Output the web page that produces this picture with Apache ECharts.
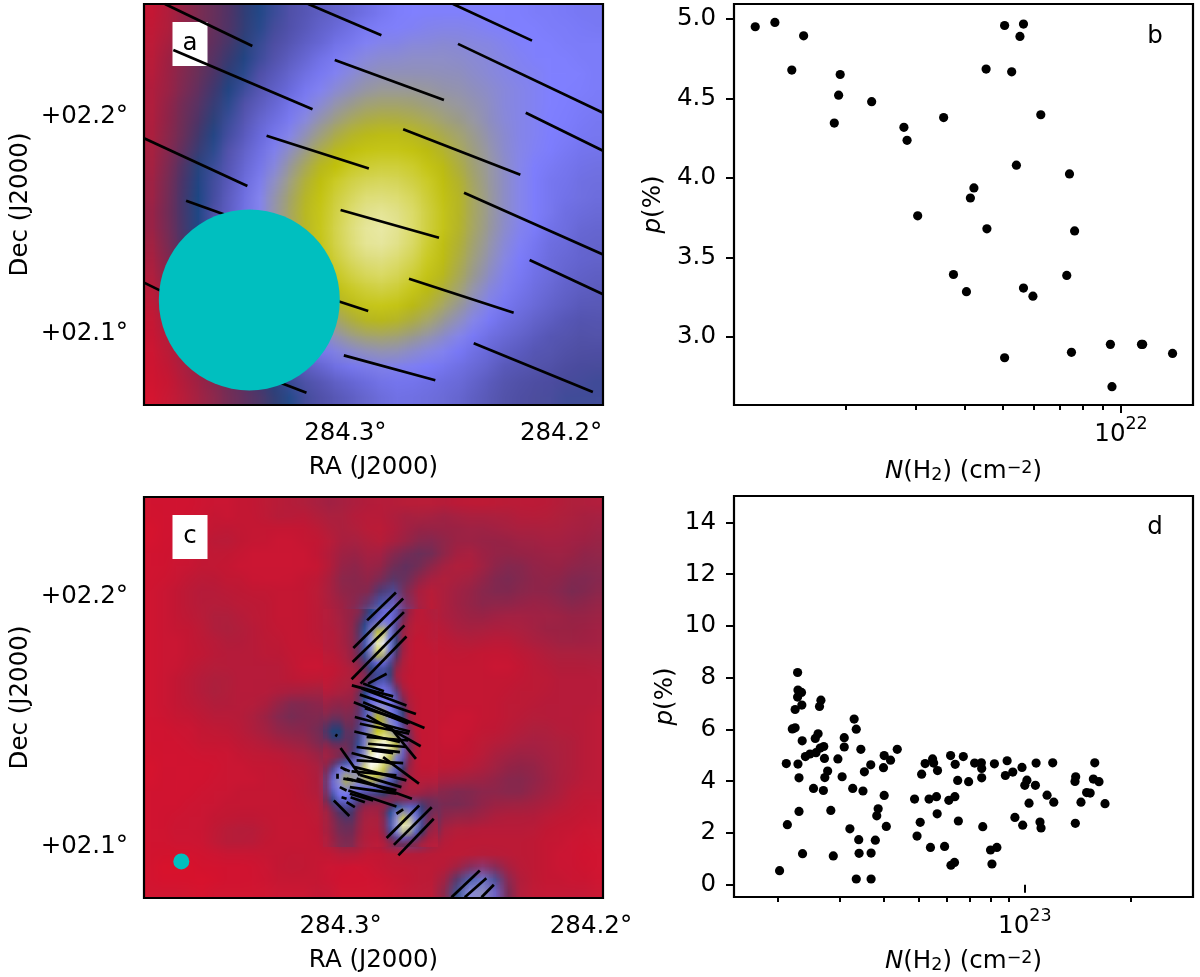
<!DOCTYPE html>
<html>
<head>
<meta charset="utf-8">
<style>
  html, body { margin: 0; background: #fff; }
  #main { position: absolute; left: 0; top: 0; width: 1200px; height: 977px; z-index: 2; }
  .heat { position: absolute; transform-origin: 0 0; z-index: 1; }
</style>
<script src="https://cdn.jsdelivr.net/npm/echarts@6/dist/echarts.min.js"></script>
</head>
<body>
<div id="heatA" class="heat" style="left:144px;top:4px;width:30px;height:26px;transform:scale(15.31,15.42)"></div>
<div id="heatC" class="heat" style="left:144px;top:497px;width:36px;height:32px;transform:scale(12.76,12.53)"></div>
<div id="heatCore" class="heat" style="left:322.7px;top:609.3px;width:18px;height:38px;transform:scale(6.38,6.27)"></div>
<div id="main"></div>
<script>
// map colour scale, stops every 5 units over 0..100
const mapColors = ['#d8152f', '#b71e3c', '#95274a', '#742f57', '#5f3362', '#463a70', '#104a80', '#4d4d9f', '#5e5ec0', '#6f6fdf', '#8080ff',
  '#9090c0', '#a0a080', '#b0b040', '#c0c000', '#cbcb2b', '#d5d555', '#dfdf80', '#eaeaaa', '#f4f4d4', '#ffffff'];

// panel a: map values, rows top to bottom
const heatA = [
  [2,5,9,13,17,21,26,31,33,36,38,40,41,43,45,47,49,50,50,50,50,50,50,50,50,49,49,49,48,48],
  [3,5,9,13,17,21,26,31,34,36,38,41,43,45,47,49,50,50,51,51,51,51,50,50,50,50,49,49,49,48],
  [3,6,10,14,18,22,27,33,35,37,40,42,45,47,50,51,51,52,52,53,53,52,52,51,50,50,50,49,49,49],
  [4,7,11,15,20,24,29,33,36,39,42,45,48,51,52,53,53,54,54,54,54,53,53,52,51,50,50,50,49,49],
  [4,8,12,16,21,26,31,35,38,41,44,47,50,52,54,55,55,55,55,55,55,54,53,52,51,51,50,50,50,49],
  [5,8,12,17,23,29,33,37,40,43,47,50,52,54,56,57,57,57,57,56,56,55,54,53,52,51,50,50,50,49],
  [5,9,14,19,25,31,35,39,42,45,49,52,55,57,59,60,60,60,59,58,57,56,55,53,52,51,50,50,49,49],
  [5,10,15,21,27,33,37,41,44,48,51,55,58,61,63,64,64,63,62,60,59,57,55,53,52,51,50,50,49,48],
  [5,10,15,22,29,34,38,43,46,50,54,58,62,65,67,68,68,67,65,63,61,59,56,54,52,51,50,49,49,48],
  [6,11,17,24,31,36,40,44,49,53,57,62,66,69,71,72,72,71,69,66,63,60,57,54,52,51,50,49,48,47],
  [6,12,19,28,33,37,42,46,51,56,61,66,70,73,75,76,76,75,72,69,65,61,58,55,52,50,49,48,47,46],
  [7,13,21,29,34,38,43,48,53,58,64,69,73,77,79,80,80,78,75,71,67,62,58,55,52,50,48,47,46,45],
  [7,13,22,30,34,39,44,50,55,60,66,71,76,80,83,84,83,81,77,72,68,63,59,55,52,50,48,47,46,45],
  [8,14,22,30,35,40,45,50,56,61,67,72,77,82,86,87,86,83,79,73,68,63,59,55,52,50,48,46,45,44],
  [8,14,22,30,35,40,45,50,55,61,67,72,78,84,88,90,88,84,79,73,68,63,59,55,52,50,47,46,44,43],
  [7,13,21,30,35,39,44,49,54,60,66,72,78,84,88,90,88,84,78,72,67,62,58,54,51,49,46,45,43,42],
  [6,12,20,28,34,38,43,48,53,58,65,71,77,82,86,87,85,82,76,71,66,61,57,53,50,48,45,44,43,42],
  [5,11,18,26,33,37,41,46,51,57,63,69,74,79,82,84,82,79,74,69,65,60,56,52,49,47,45,43,42,41],
  [4,9,15,23,31,35,39,44,49,54,60,66,71,75,78,80,79,75,71,67,63,58,54,51,48,46,44,42,41,40],
  [3,8,13,20,27,33,37,42,46,51,57,62,67,71,74,75,74,71,68,64,60,56,52,49,47,45,43,41,40,39],
  [2,6,11,17,24,30,35,39,43,48,53,58,62,66,69,70,69,67,64,60,57,53,50,47,45,43,41,40,38,38],
  [2,5,9,14,20,26,32,36,40,45,49,53,57,61,63,64,63,61,59,56,53,50,47,45,43,41,39,38,37,37],
  [1,4,8,12,17,23,28,33,37,41,45,49,52,55,57,58,58,56,54,52,50,47,45,42,41,39,38,37,36,36],
  [1,3,6,10,14,19,24,29,34,38,41,44,47,49,51,52,52,51,50,49,47,45,43,40,39,38,37,36,35,35],
  [1,2,5,8,12,16,20,25,29,34,37,39,42,44,46,47,48,48,47,46,45,43,41,38,37,36,36,35,35,34],
  [0,2,4,7,10,14,18,22,26,31,34,36,38,40,42,44,46,46,45,44,43,41,39,37,36,35,35,34,34,34]
];

// panel c: map values, rows top to bottom
const heatC = [
  [1,1,1,1,1,2,2,3,3,4,4,5,6,7,9,8,7,6,5,5,4,4,4,4,3,3,3,3,4,4,4,4,5,6,6,5],
  [1,1,1,1,2,3,2,3,3,4,6,6,5,6,7,7,5,5,5,6,7,6,6,8,7,6,6,6,6,5,5,5,6,6,7,7],
  [0,1,1,1,2,3,3,3,3,3,3,3,3,4,6,7,6,4,4,5,8,9,9,9,9,8,8,7,7,6,6,6,6,7,7,8],
  [0,1,1,2,3,4,5,4,3,3,2,2,3,3,4,6,7,6,4,5,7,10,11,10,9,9,10,10,9,8,8,7,7,8,8,9],
  [1,1,1,2,3,4,4,3,2,2,2,2,2,3,5,8,9,7,6,10,12,16,18,13,9,7,9,10,10,9,9,8,8,8,10,10],
  [1,1,2,2,3,3,3,2,2,2,2,2,2,2,4,9,11,8,8,14,20,18,13,9,6,5,7,10,12,12,10,10,9,10,11,11],
  [1,1,2,3,4,4,3,3,2,2,2,2,3,3,5,11,13,10,10,17,20,13,9,6,6,7,9,12,14,13,11,10,10,12,13,12],
  [1,2,3,4,5,5,4,4,3,3,3,3,3,4,6,11,12,10,18,33,16,8,5,6,8,9,11,13,14,12,11,11,12,14,14,12],
  [1,2,3,4,5,5,5,4,4,4,3,3,3,4,6,9,11,12,32,42,14,6,4,6,8,10,12,12,12,11,10,10,11,13,12,10],
  [1,2,3,4,5,6,6,5,4,4,3,3,3,4,5,7,11,33,44,48,36,10,4,6,8,9,10,9,8,8,8,8,8,10,10,9],
  [1,2,3,3,4,6,7,6,5,4,3,3,3,4,5,7,14,42,72,50,38,9,4,5,7,8,8,7,7,7,8,9,9,9,9,8],
  [1,2,2,3,4,5,6,6,5,4,4,3,3,4,5,7,15,48,100,52,36,8,3,4,5,6,6,5,5,6,7,8,9,9,9,8],
  [1,2,2,3,3,4,5,5,5,4,4,3,3,3,3,5,14,46,90,50,33,7,3,3,4,4,3,3,3,4,5,6,7,7,7,7],
  [1,2,2,3,4,5,5,5,5,5,5,4,2,2,2,5,11,32,42,36,22,6,3,3,3,3,3,2,2,3,4,5,6,6,6,6],
  [1,2,3,4,5,6,6,5,5,5,5,4,3,3,3,5,9,20,38,30,10,5,4,3,3,3,3,3,3,3,4,4,5,5,5,5],
  [1,2,3,4,5,7,6,5,5,5,5,5,5,6,6,7,10,30,42,36,8,5,4,3,3,3,3,3,3,4,4,4,5,5,5,5],
  [1,2,3,4,5,6,6,5,5,5,8,12,12,11,10,9,15,36,46,42,15,5,4,3,3,3,3,3,4,4,4,5,5,5,5,5],
  [1,2,3,3,4,5,5,5,6,8,12,16,14,12,13,12,18,40,72,52,32,6,3,3,2,2,3,3,4,4,5,5,5,5,5,4],
  [1,1,2,2,3,4,4,5,6,8,11,13,12,14,18,26,24,50,76,56,40,8,3,2,2,2,3,3,4,5,6,6,5,5,5,4],
  [1,1,1,2,3,3,3,4,5,6,8,10,10,14,18,26,28,55,92,92,50,12,3,2,2,3,4,4,5,6,7,7,6,6,5,4],
  [1,1,1,1,2,2,2,3,4,4,5,6,7,9,13,15,32,70,100,96,50,14,4,3,3,3,4,6,7,8,8,7,7,6,5,4],
  [0,1,1,1,1,1,2,2,3,3,3,4,5,6,10,22,50,78,100,78,38,11,4,3,3,4,5,7,9,10,10,8,7,6,5,4],
  [0,1,1,1,1,1,2,2,2,3,3,4,4,5,10,52,66,84,84,52,24,9,5,5,5,6,7,9,11,12,11,9,7,6,5,4],
  [1,1,1,1,1,2,2,3,3,3,3,3,4,5,10,46,58,48,44,34,14,9,9,10,12,12,11,11,13,13,11,9,7,5,4,4],
  [1,1,1,1,2,2,3,3,3,3,3,3,4,4,8,34,46,30,16,20,24,17,14,14,16,14,11,10,10,10,9,7,6,4,4,3],
  [1,1,1,2,2,3,3,3,3,3,3,3,3,4,6,20,24,12,8,40,76,54,24,12,12,12,10,7,6,6,6,5,4,4,3,3],
  [1,1,2,2,2,3,4,5,5,4,3,3,3,3,6,17,17,8,6,40,100,58,28,8,6,6,5,5,5,5,5,4,3,3,2,2],
  [1,1,2,2,2,4,6,6,6,4,3,3,3,3,5,14,15,7,5,22,38,34,14,6,4,4,4,4,4,4,4,3,3,2,2,2],
  [1,1,1,1,1,2,3,3,3,3,3,3,3,3,3,6,7,4,3,4,6,6,5,4,4,4,4,4,4,4,4,3,2,2,1,1],
  [1,0,0,0,1,1,1,1,1,2,3,4,4,3,2,2,1,2,3,4,4,4,4,4,4,6,8,7,5,4,4,3,2,2,1,1],
  [1,0,0,0,0,0,1,1,1,2,3,3,3,3,2,1,1,1,2,3,3,4,4,5,14,32,46,32,11,5,4,3,3,2,2,1],
  [1,1,1,1,0,1,1,1,1,1,2,2,2,3,3,1,1,1,1,2,3,4,4,6,28,52,56,46,18,6,4,3,3,3,3,2]
];

// panel c: the filament and its two cores read at twice the resolution
const heatCore = [
  [5,6,8,9,10,11,16,30,36,42,46,42,24,10,5,4,5,6],
  [5,6,7,9,10,12,22,33,38,44,46,40,20,8,5,4,5,6],
  [5,6,7,8,10,14,28,38,44,50,48,36,14,7,4,4,4,5],
  [5,5,7,8,10,16,31,44,62,72,52,34,11,6,4,4,4,5],
  [5,5,6,8,10,16,32,48,76,84,50,32,10,6,4,3,4,5],
  [5,5,6,8,10,16,33,50,90,100,52,30,10,5,3,3,4,4],
  [5,5,6,7,9,15,33,50,86,95,50,28,9,5,3,3,3,4],
  [4,4,5,7,9,14,31,46,72,74,46,26,8,5,3,3,3,3],
  [4,4,5,6,8,12,24,36,48,50,38,20,7,4,3,3,3,3],
  [3,3,4,5,6,9,15,30,36,38,32,12,6,4,3,3,3,3],
  [3,3,4,5,6,8,11,24,33,36,31,9,5,4,3,3,3,3],
  [3,4,5,6,6,8,10,24,34,38,32,9,5,3,3,3,3,3],
  [4,5,6,6,7,8,16,32,40,44,40,18,6,4,3,3,3,3],
  [5,5,6,7,8,10,30,40,44,46,46,34,9,5,3,3,3,3],
  [7,8,9,9,9,12,31,44,46,48,48,38,14,5,4,3,3,3],
  [9,10,11,10,10,14,33,45,50,52,50,40,24,6,4,3,3,3],
  [10,12,13,12,12,17,34,46,62,60,50,44,30,7,4,3,3,3],
  [12,16,16,13,13,18,36,48,70,66,52,46,32,9,4,3,3,3],
  [16,22,24,15,14,20,38,50,66,62,54,48,34,11,4,3,3,3],
  [20,28,30,20,16,24,42,54,72,74,60,50,38,14,5,3,3,3],
  [18,28,30,22,18,26,44,58,76,88,80,62,42,18,6,3,3,3],
  [12,20,22,18,18,28,46,62,90,98,92,70,46,20,7,3,3,3],
  [9,12,14,14,18,32,48,74,100,100,96,72,46,18,7,3,3,3],
  [8,9,11,13,22,36,52,90,100,100,76,56,44,16,6,3,3,3],
  [8,12,20,28,36,44,58,100,100,90,68,52,38,12,5,3,3,3],
  [9,24,42,48,50,52,78,100,98,80,60,46,30,10,5,3,3,3],
  [12,36,50,58,56,54,80,92,80,70,52,40,22,9,5,4,4,4],
  [14,42,52,64,62,54,62,70,66,54,44,32,16,8,5,5,5,5],
  [14,42,50,60,58,50,48,48,46,42,36,24,11,7,6,6,7,7],
  [12,38,48,50,46,40,38,36,34,30,24,14,9,7,7,8,9,10],
  [10,30,44,46,42,34,24,20,18,16,14,10,10,11,12,13,14,14],
  [8,20,34,38,36,22,12,10,10,9,12,30,34,36,38,26,20,17],
  [6,13,22,26,26,14,8,8,8,10,30,44,56,50,44,32,20,14],
  [6,11,18,22,24,13,8,7,6,9,32,50,72,64,50,34,18,12],
  [6,10,16,18,20,12,7,6,6,9,34,52,90,100,56,36,16,9],
  [6,10,15,16,18,11,7,6,5,8,32,50,88,76,50,30,12,8],
  [5,9,13,14,15,10,6,5,5,6,20,34,46,42,34,18,9,7],
  [5,8,12,13,14,9,6,5,4,5,9,14,18,16,13,8,6,5]
];

// polarisation vectors: [RA start, Dec start, RA end, Dec end] in degrees
const vectorsA = [
  [284.3836,2.2520,284.3431,2.2326],[284.3172,2.2520,284.2833,2.2376],[284.2501,2.2520,284.2135,2.2351],
  [284.2478,2.2336,284.1806,2.2018],[284.3049,2.2262,284.2543,2.2077],[284.3797,2.2308,284.3152,2.2034],
  [284.3933,2.1900,284.3454,2.1680],[284.3365,2.1912,284.2891,2.1761],[284.2732,2.1942,284.2189,2.1732],
  [284.2164,2.2018,284.1806,2.1843],[284.3738,2.1612,284.3272,2.1446],[284.3022,2.1569,284.2566,2.1441],
  [284.2450,2.1649,284.1806,2.1364],[284.2146,2.1338,284.1806,2.1180],[284.2705,2.1252,284.2220,2.1095],
  [284.3933,2.1234,284.3689,2.1115],[284.3380,2.1261,284.2894,2.1103],[284.2405,2.0954,284.1853,2.0729],
  [284.3007,2.0898,284.2583,2.0783],[284.3535,2.0861,284.3180,2.0726]
];
const vectorsC = [
  [284.2894,2.1904,284.2779,2.2015],[284.2949,2.1794,284.2750,2.1991],[284.2952,2.1738,284.2747,2.1937],
  [284.2956,2.1669,284.2745,2.1884],[284.2920,2.1652,284.2737,2.1840],[284.2890,2.1652,284.2816,2.1691],
  [284.2910,2.1652,284.2827,2.1621],[284.2955,2.1645,284.2790,2.1601],[284.2916,2.1632,284.2737,2.1565],
  [284.2923,2.1608,284.2699,2.1531],[284.2910,2.1578,284.2665,2.1475],[284.2947,2.1578,284.2730,2.1492],
  [284.2903,2.1554,284.2723,2.1496],[284.2943,2.1519,284.2723,2.1461],[284.2896,2.1525,284.2680,2.1402],
  [284.2923,2.1492,284.2726,2.1452],[284.2945,2.1461,284.2763,2.1419],[284.2803,2.1479,284.2699,2.1352],
  [284.2896,2.1439,284.2730,2.1425],[284.2890,2.1412,284.2737,2.1399],[284.2936,2.1399,284.2763,2.1379],
  [284.2876,2.1386,284.2790,2.1375],[284.2956,2.1375,284.2790,2.1332],[284.2936,2.1346,284.2750,2.1335],
  [284.2830,2.1359,284.2687,2.1253],[284.2943,2.1319,284.2737,2.1266],[284.2956,2.1302,284.2777,2.1286],
  [284.2923,2.1288,284.2757,2.1239],[284.3000,2.1395,284.2923,2.1286],[284.2976,2.1273,284.2777,2.1226],
  [284.2989,2.1312,284.2963,2.1302],[284.2936,2.1273,284.2715,2.1193],[284.2963,2.1239,284.2777,2.1213],
  [284.2969,2.1226,284.2777,2.1162],[284.2963,2.1213,284.2870,2.1186],[284.2960,2.1199,284.2903,2.1179],
  [284.3027,2.1186,284.2965,2.1124],[284.3003,2.1239,284.2976,2.1226],[284.2996,2.1199,284.2976,2.1193],
  [284.2976,2.1179,284.2943,2.1159],[284.3013,2.1292,284.3013,2.1273],[284.3000,2.1319,284.2976,2.1306],
  [284.2989,2.1273,284.2949,2.1266],[284.3021,2.1448,284.3013,2.1443],
  [284.2816,2.1036,284.2686,2.1166],[284.2787,2.1009,284.2636,2.1159],[284.2769,2.0967,284.2628,2.1113],
  [284.2777,2.1133,284.2750,2.1150],
  [284.2557,2.0800,284.2444,2.0907],[284.2504,2.0800,284.2418,2.0876],[284.2437,2.0800,284.2388,2.0850]
];

// beam positions [RA, Dec]
const beamA = [284.3445, 2.1154];
const beamC = [284.3636, 2.0943];

// sky axis ticks
const raTicks = [284.3, 284.2];
const decTicks = [2.2, 2.1];

// panel b: log10 N(H2) and p(%)
const bLogN = [21.070,21.120,21.193,21.163,21.286,21.282,21.271,21.366,21.448,21.456,21.549,21.657,21.704,21.752,21.743,21.722,21.796,21.734,21.869,21.626,21.617,21.483,21.659,21.882,21.574,21.862,21.607,21.752,21.776,21.704,21.874,21.973,22.052,22.055,22.131,21.977];
const bP = [4.95,4.977,4.893,4.678,4.65,4.52,4.345,4.479,4.318,4.236,4.379,4.684,4.958,4.967,4.889,4.667,4.397,4.08,4.025,3.937,3.874,3.762,3.68,3.667,3.393,3.387,3.285,3.308,3.257,2.87,2.904,2.954,2.954,2.954,2.897,2.688];
const bTicksY = [3, 3.5, 4, 4.5, 5];
const bMajorX = [1e22];
const bMinorX = [2e21, 3e21, 4e21, 5e21, 6e21, 7e21, 8e21, 9e21];

// panel d: log10 N(H2) and p(%)
const dLogN = [22.306,22.328,22.325,22.357,22.358,22.368,22.357,22.369,22.350,22.342,22.350,22.370,22.358,22.361,22.361,22.371,22.379,22.392,22.409,22.407,22.415,22.423,22.419,22.421,22.431,22.433,22.402,22.430,22.434,22.442,22.451,22.458,22.471,22.483,22.489,22.489,22.505,22.513,22.517,22.523,22.523,22.530,22.531,22.536,22.542,22.546,22.564,22.565,22.565,22.577,22.581,22.585,22.600,22.602,22.602,22.608,22.620,22.639,22.688,22.695,22.704,22.708,22.718,22.729,22.733,22.739,22.742,22.750,22.753,22.752,22.773,22.785,22.790,22.791,22.801,22.802,22.803,22.810,22.812,22.826,22.841,22.858,22.877,22.878,22.878,22.881,22.903,22.907,22.921,22.914,22.945,22.950,22.966,22.972,22.992,22.994,23.000,23.006,23.012,23.030,23.032,23.043,23.046,23.063,23.079,23.082,23.142,23.144,23.143,23.159,23.175,23.185,23.194,23.198,23.210,23.227];
const dP = [0.54,2.32,4.68,8.2,7.52,7.43,7.25,6.94,6.77,6.02,6.06,5.56,4.66,4.13,2.83,1.2,4.95,5.05,5.1,5.65,5.83,7.13,6.89,5.28,5.34,4.88,3.72,3.64,4.14,4.39,2.87,1.11,4.86,4.17,5.68,5.32,2.16,3.72,6.4,6.01,0.22,1.74,1.21,5.23,3.62,4.36,4.63,1.22,0.22,1.72,2.66,2.93,4.52,4.99,3.45,2.25,4.81,5.23,3.31,1.88,2.41,4.27,4.68,3.31,1.44,4.86,4.7,3.4,4.41,2.74,1.48,3.26,4.99,0.75,0.86,3.4,4.65,4.03,2.46,4.95,3.98,4.7,4.71,4.49,4.13,2.24,1.34,0.8,1.44,4.67,4.22,4.79,4.35,2.6,4.53,2.3,3.84,4.04,3.15,3.84,4.7,2.42,2.19,3.46,4.71,3.19,3.99,4.17,2.37,3.19,3.56,3.54,4.08,4.71,3.98,3.13];
const dTicksY = [0, 2, 4, 6, 8, 10, 12, 14];
const dMajorX = [1e23];
const dMinorX = [2e22, 3e22, 4e22, 5e22, 6e22, 7e22, 8e22, 9e22, 2e23, 3e23];

const FONT = 'DejaVu Sans';
const FS = 24.5;

function drawHeat(id, rows) {
  const nx = rows[0].length, ny = rows.length;
  const chart = echarts.init(document.getElementById(id), null, { width: nx, height: ny, devicePixelRatio: 1 });
  const cells = [];
  rows.forEach((row, j) => row.forEach((v, i) => cells.push([i, j, v])));
  chart.setOption({
    animation: false,
    grid: { left: 0, right: 0, top: 0, bottom: 0, outerBoundsMode: 'none' },
    xAxis: { type: 'category', show: false, data: rows[0].map((_, i) => i) },
    yAxis: { type: 'category', show: false, inverse: true, data: rows.map((_, j) => j) },
    visualMap: { show: false, min: 0, max: 100, inRange: { color: mapColors } },
    series: [{ type: 'heatmap', data: cells, itemStyle: { borderWidth: 0 } }]
  });
}
drawHeat('heatA', heatA);
drawHeat('heatC', heatC);
drawHeat('heatCore', heatCore);

function skyX(grid, min, max) {
  return {
    type: 'value', gridIndex: grid, min: min, max: max, inverse: true,
    splitLine: { show: false }, axisLine: { show: false }, axisTick: { show: false },
    axisLabel: { customValues: raTicks, margin: 16.5, color: '#000', fontFamily: FONT, fontSize: FS, formatter: v => v.toFixed(1) + '°' },
    name: 'RA (J2000)', nameLocation: 'middle', nameGap: 50,
    nameTextStyle: { color: '#000', fontFamily: FONT, fontSize: FS }
  };
}
function skyY(grid, min, max) {
  return {
    type: 'value', gridIndex: grid, min: min, max: max,
    splitLine: { show: false }, axisLine: { show: false }, axisTick: { show: false },
    axisLabel: { customValues: decTicks, margin: 16, color: '#000', fontFamily: FONT, fontSize: FS, formatter: v => '+0' + v.toFixed(1) + '°' },
    name: 'Dec (J2000)', nameLocation: 'middle', nameGap: 111, nameRotate: 90,
    nameTextStyle: { color: '#000', fontFamily: FONT, fontSize: FS }
  };
}
const nameRich = {
  i: { fontFamily: FONT, fontSize: FS, fontStyle: 'italic', color: '#000' },
  n: { fontFamily: FONT, fontSize: FS, color: '#000' },
  s: { fontFamily: FONT, fontSize: 17.5, color: '#000', verticalAlign: 'bottom' },
  u: { fontFamily: FONT, fontSize: 17.5, color: '#000', verticalAlign: 'top' }
};
function logX(grid, min, max, major, gap) {
  return {
    type: 'log', gridIndex: grid, min: min, max: max,
    splitLine: { show: false }, axisLine: { show: false },
    axisTick: { show: true, customValues: major, length: 8, lineStyle: { color: '#000', width: 2 } },
    axisLabel: {
      customValues: major, margin: 7, fontFamily: FONT,
      formatter: v => '{a|10}{b|' + Math.round(Math.log10(v)) + '}',
      rich: {
        a: { fontFamily: FONT, fontSize: FS, color: '#000', padding: [10, 0, 0, 0] },
        b: { fontFamily: FONT, fontSize: 17.5, color: '#000', padding: [0, 0, 10, 0] }
      }
    },
    name: '{i|N}{n|(H}{s|2}{n|) (cm}{u|−2}{n|)}', nameLocation: 'middle', nameGap: gap,
    nameTextStyle: { rich: nameRich }
  };
}
function minorX(grid, min, max, minor) {
  return {
    type: 'log', gridIndex: grid, min: min, max: max, position: 'bottom',
    splitLine: { show: false }, axisLine: { show: false }, axisLabel: { show: false },
    axisTick: { show: true, customValues: minor, length: 5, lineStyle: { color: '#000', width: 2 } }
  };
}
function pY(grid, min, max, ticks, digits, gap) {
  return {
    type: 'value', gridIndex: grid, min: min, max: max,
    splitLine: { show: false }, axisLine: { show: false },
    axisTick: { show: true, customValues: ticks, length: 8, lineStyle: { color: '#000', width: 2 } },
    axisLabel: { customValues: ticks, margin: 18, color: '#000', fontFamily: FONT, fontSize: FS, formatter: v => v.toFixed(digits) },
    name: '{i|p}{n|(%)}', nameLocation: 'middle', nameGap: gap, nameRotate: 90,
    nameTextStyle: { rich: nameRich }
  };
}
function vectorSeries(xi, yi, list) {
  return {
    type: 'lines', coordinateSystem: 'cartesian2d', xAxisIndex: xi, yAxisIndex: yi, clip: true, z: 3,
    lineStyle: { color: '#000', width: 2.7, opacity: 1, curveness: 0 },
    data: list.map(s => ({ coords: [[s[0], s[1]], [s[2], s[3]]] }))
  };
}
function beamSeries(xi, yi, pos, size) {
  return {
    type: 'scatter', xAxisIndex: xi, yAxisIndex: yi, z: 4, symbolSize: size, clip: false,
    itemStyle: { color: '#00bfbf', opacity: 1 }, data: [pos]
  };
}
function dotSeries(xi, yi, xs, ys) {
  return {
    type: 'scatter', xAxisIndex: xi, yAxisIndex: yi, symbolSize: 9.2,
    itemStyle: { color: '#000', opacity: 1 }, data: xs.map((x, i) => [Math.pow(10, x), ys[i]])
  };
}
function tagBox(letter, x, y) {
  return {
    type: 'group', left: x, top: y, z: 100,
    children: [
      { type: 'rect', shape: { x: 0, y: 0, width: 35, height: 44 }, style: { fill: '#fff' } },
      { type: 'text', style: { x: 17.5, y: 22, text: letter, align: 'center', verticalAlign: 'middle', fontFamily: FONT, fontSize: FS, fill: '#000' } }
    ]
  };
}
function tagText(letter, x, y) {
  return { type: 'text', z: 100, x: x, y: y, style: { text: letter, align: 'center', verticalAlign: 'middle', fontFamily: FONT, fontSize: FS, fill: '#000' } };
}

const frame = { show: true, borderColor: '#000', borderWidth: 2.2, backgroundColor: 'transparent', containLabel: false, outerBoundsMode: 'none' };
const chart = echarts.init(document.getElementById('main'));
chart.setOption({
  animation: false,
  grid: [
    Object.assign({ left: 144, top: 4, width: 459, height: 401 }, frame),
    Object.assign({ left: 734, top: 4, width: 459, height: 401 }, frame),
    Object.assign({ left: 144, top: 497, width: 459, height: 401 }, frame),
    Object.assign({ left: 734, top: 496, width: 459, height: 401 }, frame)
  ],
  xAxis: [
    skyX(0, 284.1806, 284.3933),
    logX(1, Math.pow(10, 21.016), Math.pow(10, 22.183), bMajorX, 54),
    skyX(2, 284.1952, 284.3785),
    logX(3, Math.pow(10, 22.177), Math.pow(10, 23.476), dMajorX, 52),
    minorX(1, Math.pow(10, 21.016), Math.pow(10, 22.183), bMinorX),
    minorX(3, Math.pow(10, 22.177), Math.pow(10, 23.476), dMinorX)
  ],
  yAxis: [
    skyY(0, 2.0669, 2.252),
    pY(1, 2.573, 5.093, bTicksY, 1, 68),
    skyY(2, 2.0797, 2.2396),
    pY(3, -0.476, 15.02, dTicksY, 0, 56)
  ],
  series: [
    vectorSeries(0, 0, vectorsA),
    beamSeries(0, 0, beamA, 181),
    vectorSeries(2, 2, vectorsC),
    beamSeries(2, 2, beamC, 16),
    dotSeries(1, 1, bLogN, bP),
    dotSeries(3, 3, dLogN, dP)
  ],
  graphic: [
    tagBox('a', 172.5, 22),
    tagBox('c', 172.5, 515),
    tagText('b', 1155, 37),
    tagText('d', 1155, 528)
  ]
});
</script>
</body>
</html>
